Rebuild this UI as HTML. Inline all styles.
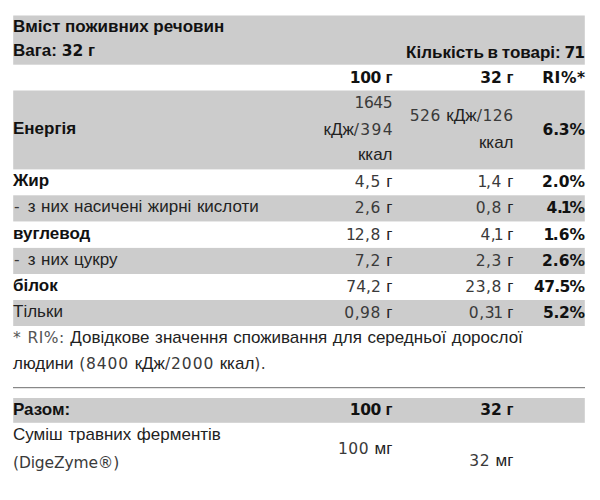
<!DOCTYPE html>
<html lang="uk">
<head>
<meta charset="utf-8">
<title>Вміст поживних речовин</title>
<style>
html,body{margin:0;padding:0;background:#fff;}
body{width:600px;height:500px;overflow:hidden;position:relative;
 font-family:"Liberation Sans",sans-serif;font-size:17px;line-height:26px;color:#222;word-spacing:.8px;}
table{border-collapse:collapse;border-spacing:0;position:absolute;left:13px;top:15px;width:572px;table-layout:fixed;}
td,th{padding:0;margin:0;font-weight:normal;text-align:left;vertical-align:middle;white-space:nowrap;}
svg.bg{position:absolute;left:0;top:0;z-index:0;}
table{z-index:1;}
.r{text-align:right;}
th{font-weight:bold;color:#111;word-spacing:0;}
/* latin / digit runs (original uses a wide grotesque for these) */
.n{font-family:"DejaVu Sans","Liberation Sans",sans-serif;font-size:15.5px;letter-spacing:.5px;line-height:0;color:#3a3a3a;}
.o{margin:0 -1.8px;}
.hy{margin-left:1px;margin-right:2.2px;}
.nb{font-family:"DejaVu Sans","Liberation Sans",sans-serif;font-size:15.5px;line-height:0;font-weight:bold;}
tr.head th{height:50px;line-height:24px;vertical-align:top;}
tr.head th.r{vertical-align:bottom;}
tr.h26 td,tr.h26 th{height:24px;line-height:24px;padding-bottom:2px;}
tr.h25 td,tr.h25 th{height:24px;line-height:24px;padding-bottom:1px;}
tr.h27 td,tr.h27 th{height:25px;}
tr.h26 .r,tr.h27 .r{padding-top:1px;padding-bottom:1px;}
.e{padding-bottom:0px;}
.up{position:relative;top:-1px;}
.u{position:relative;top:-1px;display:block;}
hr{border:0;border-top:1px solid #888;border-bottom:1px solid #e4e4e4;margin:0;height:0;}
</style>
</head>
<body>
<svg class="bg" width="600" height="500" viewBox="0 0 600 500" fill="#ccc" aria-hidden="true"><rect x="13.2" y="15.5" width="571.6" height="49.2"/><rect x="13.2" y="90.5" width="571.6" height="78.9"/><rect x="13.2" y="195.3" width="571.6" height="26.15"/><rect x="13.2" y="247.9" width="571.6" height="26.1"/><rect x="13.2" y="300.0" width="571.6" height="26.0"/><rect x="13.2" y="398.0" width="571.6" height="24.8"/></svg>
<table>
<colgroup><col style="width:279.5px"><col style="width:100px"><col style="width:121px"><col style="width:71.5px"></colgroup>
<tr class="g head"><th colspan="2">Вміст поживних речовин<br>Вага: <span class="nb">32</span> г</th><th colspan="2" class="r" style="word-spacing:-1px">Кількість в товарі: <span class="nb" style="letter-spacing:-1px;margin-right:1px">71</span></th></tr>
<tr class="h26"><th></th><th class="r"><span class="nb" style="letter-spacing:-.5px">100</span> г</th><th class="r"><span class="nb">32</span> г</th><th class="r"><span class="nb" style="letter-spacing:0.5px;margin-right:-0.5px">RI%*</span></th></tr>
<tr class="g"><th style="height:76px;padding-bottom:2px">Енергія</th><td class="r"><span class="up"><span class="n" style="letter-spacing:-.5px;margin-right:.5px">1645</span></span><br>кДж<span class="n" style="letter-spacing:1.3px;margin-right:-1.3px">/394</span><br><span class="up">ккал</span></td><td class="r e"><span class="up"><span class="n">526</span> кДж<span class="n">/126</span></span><br>ккал</td><th class="r e"><span class="nb" style="letter-spacing:-0.15px;margin-right:0.15px">6.3%</span></th></tr>
<tr class="h26"><th>Жир</th><td class="r"><span class="n">4,5</span> г</td><td class="r"><span class="n"><span class="o">1</span>,4</span> г</td><th class="r"><span class="nb">2.0%</span></th></tr>
<tr class="g h26"><td><span class="n hy">-</span> з них насичені жирні кислоти</td><td class="r"><span class="n">2,6</span> г</td><td class="r"><span class="n">0,8</span> г</td><th class="r"><span class="nb" style="letter-spacing:-.45px;margin-right:.45px">4.<span class="o" style="margin:0 -1.6px">1</span>%</span></th></tr>
<tr class="h26 h27"><th>вуглевод</th><td class="r"><span class="n"><span class="o">1</span>2,8</span> г</td><td class="r"><span class="n">4,<span class="o" style="margin:0 -2.4px">1</span></span> г</td><th class="r"><span class="nb"><span class="o" style="margin:0 -1.6px">1</span>.6%</span></th></tr>
<tr class="g h26"><td><span class="n hy">-</span> з них цукру</td><td class="r"><span class="n">7,2</span> г</td><td class="r"><span class="n">2,3</span> г</td><th class="r"><span class="nb">2.6%</span></th></tr>
<tr class="h26"><th>білок</th><td class="r"><span class="n" style="letter-spacing:0">74,2</span> г</td><td class="r"><span class="n">23,8</span> г</td><th class="r"><span class="nb" style="letter-spacing:-0.7px;margin-right:0.7px">47.5%</span></th></tr>
<tr class="g h26"><td>Тільки</td><td class="r"><span class="n">0,98</span> г</td><td class="r"><span class="n">0,3<span class="o">1</span></span> г</td><th class="r"><span class="nb" style="letter-spacing:-0.3px;margin-right:0.3px">5.2%</span></th></tr>
<tr><td colspan="4" style="height:61px;vertical-align:top;line-height:26px"><span class="u" style="top:-1px"><span class="n" style="color:#555">* RI%:</span> Довідкове значення споживання для середньої дорослої<br>людини <span class="n" style="letter-spacing:.9px">(8400</span> кДж<span class="n" style="letter-spacing:.9px">/2000</span> ккал<span class="n">).</span></span></td></tr>
<tr><td colspan="4" style="height:11px;vertical-align:top"><hr></td></tr>
<tr class="g h25"><th>Разом:</th><th class="r"><span class="nb" style="letter-spacing:-.5px">100</span> г</th><th class="r"><span class="nb">32</span> г</th><th></th></tr>
<tr><td style="height:56px;line-height:27.5px;vertical-align:top"><span class="u" style="top:-2px">Суміш травних ферментів<br><span class="n" style="letter-spacing:-.14px">(DigeZyme®)</span></span></td><td class="r" style="vertical-align:top;padding-top:13px"><span class="n">100</span> мг</td><td class="r" style="vertical-align:top;padding-top:25px"><span class="n">32</span> мг</td><td></td></tr>
</table>
</body>
</html>
